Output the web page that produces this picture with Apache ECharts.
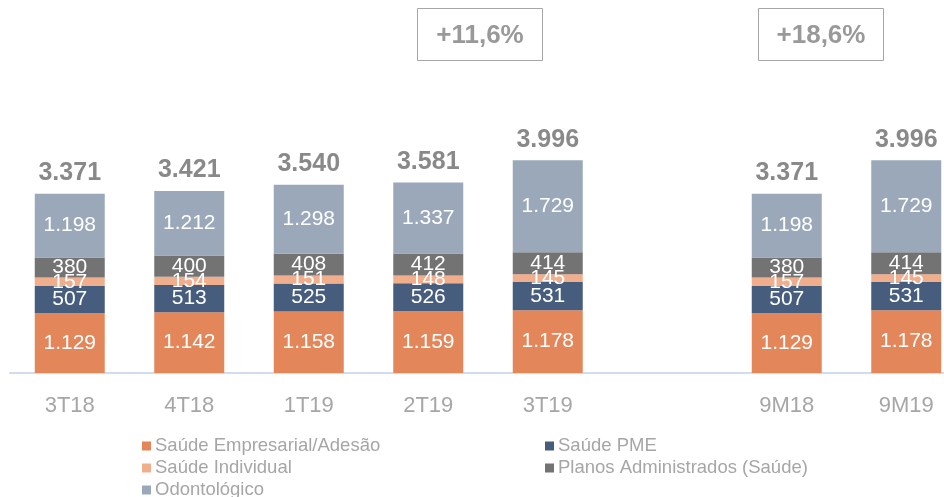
<!DOCTYPE html>
<html>
<head>
<meta charset="utf-8">
<script src="https://cdn.jsdelivr.net/npm/echarts@6/dist/echarts.min.js"></script>
<style>
  html, body { margin: 0; padding: 0; background: #fff; }
  #chart { width: 944px; height: 497px; }
</style>
</head>
<body>
<div id="chart"></div>
<script>
// dados (mil beneficiários)
var categories = ['3T18', '4T18', '1T19', '2T19', '3T19', '', '9M18', '9M19'];
var empresarial = [1129, 1142, 1158, 1159, 1178, null, 1129, 1178];
var pme = [507, 513, 525, 526, 531, null, 507, 531];
var individual = [157, 154, 151, 148, 145, null, 157, 145];
var planosAdm = [380, 400, 408, 412, 414, null, 380, 414];
var odonto = [1198, 1212, 1298, 1337, 1729, null, 1198, 1729];
var totals = [3371, 3421, 3540, 3581, 3996, null, 3371, 3996];
var growthLabels = ['+11,6%', '+18,6%'];

var seriesNames = ['Saúde Empresarial/Adesão', 'Saúde PME', 'Saúde Individual', 'Planos Administrados (Saúde)', 'Odontológico'];
var colors = ['#E3875A', '#465D7E', '#F0AE8C', '#737373', '#9AA8BA'];

function fmt(v) {
  return String(v).replace(/\B(?=(\d{3})+(?!\d))/g, '.');
}

var font = 'Liberation Sans, Arial, sans-serif';

function barSeries(name, data, color) {
  return {
    name: name,
    type: 'bar',
    stack: 'total',
    barWidth: 70,
    data: data,
    itemStyle: { color: color },
    label: {
      show: true,
      position: 'inside',
      color: '#fff',
      fontSize: 21,
      fontFamily: font,
      formatter: function (p) { return fmt(p.value); }
    }
  };
}

var myChart = echarts.init(document.getElementById('chart'));

var option = {
  animation: false,
  color: colors,
  // a ultima coluna sai um pouco da tela, como no original
  grid: { left: 10, width: 956, top: 107, bottom: 124, outerBoundsMode: 'none', containLabel: false },
  xAxis: {
    type: 'category',
    data: categories,
    axisTick: { show: false },
    axisLine: { show: true, lineStyle: { color: '#D0DCEF', width: 2 } },
    axisLabel: { color: '#A6A6A6', fontSize: 22, fontFamily: font, margin: 22 }
  },
  yAxis: {
    type: 'value',
    min: 0,
    max: 5000,
    show: false,
    splitLine: { show: false }
  },
  legend: {
    data: seriesNames,
    left: 142,
    top: 435,
    width: 820,
    padding: 0,
    itemWidth: 9,
    itemHeight: 9,
    itemGap: 0,
    icon: 'rect',
    textStyle: {
      color: '#A6A6A6',
      fontSize: 18.5,
      fontFamily: font,
      width: 390,
      lineHeight: 22,
      padding: [0, 0, 0, -1]
    }
  },
  graphic: [
    {
      type: 'group', left: 417, top: 8,
      children: [
        { type: 'rect', shape: { x: 0, y: 0, width: 125, height: 52 }, style: { fill: '#fff', stroke: '#A6A6A6', lineWidth: 1 } },
        { type: 'text', x: 62.5, y: 27, style: { text: growthLabels[0], fill: '#999', font: 'bold 26px ' + font, align: 'center', verticalAlign: 'middle' } }
      ]
    },
    {
      type: 'group', left: 758, top: 8,
      children: [
        { type: 'rect', shape: { x: 0, y: 0, width: 125, height: 52 }, style: { fill: '#fff', stroke: '#A6A6A6', lineWidth: 1 } },
        { type: 'text', x: 62.5, y: 27, style: { text: growthLabels[1], fill: '#999', font: 'bold 26px ' + font, align: 'center', verticalAlign: 'middle' } }
      ]
    }
  ],
  series: [
    barSeries(seriesNames[0], empresarial, colors[0]),
    barSeries(seriesNames[1], pme, colors[1]),
    barSeries(seriesNames[2], individual, colors[2]),
    barSeries(seriesNames[3], planosAdm, colors[3]),
    barSeries(seriesNames[4], odonto, colors[4]),
    {
      name: 'Total',
      type: 'scatter',
      data: totals,
      symbolSize: 0,
      silent: true,
      label: {
        show: true,
        position: 'top',
        distance: 8,
        color: '#6B6B6B',
        fontSize: 25,
        fontWeight: 'bold',
        fontFamily: font,
        formatter: function (p) { return fmt(p.value); }
      }
    }
  ]
};

myChart.setOption(option);
</script>
</body>
</html>
